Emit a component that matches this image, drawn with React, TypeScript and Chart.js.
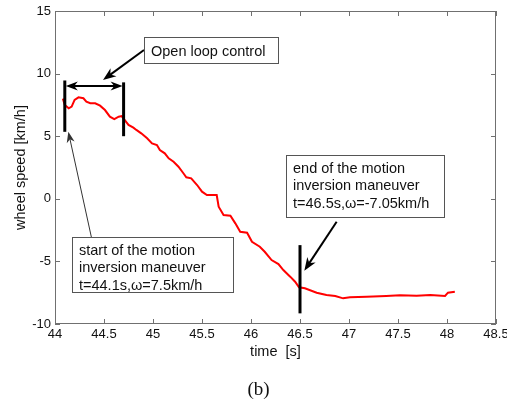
import React, { useEffect, useRef } from "react";
import { Chart, registerables } from "chart.js";
Chart.register(...registerables);

// time [s]
const T = [44.08, 44.10, 44.14, 44.17, 44.20, 44.24, 44.29, 44.32, 44.36, 44.41, 44.46, 44.51, 44.56, 44.605, 44.65, 44.68, 44.71, 44.75, 44.80, 44.83, 44.88, 44.94, 44.99, 45.04, 45.07, 45.12, 45.16, 45.21, 45.26, 45.31, 45.34, 45.39, 45.45, 45.50, 45.55, 45.65, 45.67, 45.72, 45.79, 45.84, 45.89, 45.96, 46.01, 46.09, 46.14, 46.21, 46.28, 46.33, 46.40, 46.45, 46.49, 46.55, 46.67, 46.77, 46.86, 46.94, 47.01, 47.18, 47.38, 47.52, 47.69, 47.83, 47.98, 48.01, 48.08];
// wheel speed [km/h]
const V = [8.0, 7.5, 7.23, 7.36, 7.9, 8.1, 8.03, 7.76, 7.63, 7.63, 7.44, 7.09, 6.56, 6.37, 6.56, 6.61, 6.3, 5.9, 5.68, 5.5, 5.23, 4.83, 4.43, 4.3, 3.9, 3.63, 3.23, 2.96, 2.56, 2.04, 1.72, 1.63, 1.1, 0.57, 0.3, 0.3, -0.63, -1.3, -1.35, -1.96, -2.63, -2.71, -3.43, -3.83, -4.23, -4.89, -5.21, -5.69, -6.22, -6.62, -7.07, -7.15, -7.5, -7.68, -7.76, -7.95, -7.87, -7.82, -7.76, -7.71, -7.74, -7.68, -7.76, -7.5, -7.42];

// marker lines: [t, vTop, vBottom]
const MARKERS = [[44.1, 9.45, 5.35], [44.7, 9.3, 5.0], [46.5, -3.7, -9.15]];
// open-loop span
const SPAN = [44.1, 44.7, 9.0];

// annotation boxes: [tLeft, vTop, tRight, vBottom]
const BOX_OPEN = [44.908, 12.92, 46.276, 10.85];
const BOX_START = [44.17, -3.08, 45.82, -7.42];
const BOX_END = [46.357, 3.5, 47.97, -1.48];
const TXT_OPEN = ["Open loop control"];
const TXT_START = ["start of the motion", "inversion maneuver", "t=44.1s,\u03c9=7.5km/h"];
const TXT_END = ["end of the motion", "inversion maneuver", "t=46.5s,\u03c9=-7.05km/h"];
// arrows [tFrom, vFrom, tTo, vTo]
const ARROW_OPEN = [44.908, 11.885, 44.49, 9.49];
const ARROW_START = [44.374, -3.16, 44.136, 5.36];
const ARROW_END = [46.874, -1.83, 46.544, -5.74];

const SANS = "'Liberation Sans', Arial, sans-serif";

function head(ctx: CanvasRenderingContext2D, x1: number, y1: number, x2: number, y2: number, len: number, hw: number, color: string) {
  const a = Math.atan2(y2 - y1, x2 - x1);
  const c = Math.cos(a), s = Math.sin(a);
  ctx.fillStyle = color;
  ctx.beginPath();
  ctx.moveTo(x2, y2);
  ctx.lineTo(x2 - len * c + hw * s, y2 - len * s - hw * c);
  ctx.lineTo(x2 - len * 0.7 * c, y2 - len * 0.7 * s);
  ctx.lineTo(x2 - len * c - hw * s, y2 - len * s + hw * c);
  ctx.closePath();
  ctx.fill();
}

const annot = {
  id: "annot",
  afterDatasetsDraw(chart: any) {
    const { ctx, chartArea: ca, scales } = chart;
    const xs = scales.x, ys = scales.y;
    const px = (t: number) => xs.getPixelForValue(t);
    const py = (v: number) => ys.getPixelForValue(v);
    ctx.save();
    // frame
    ctx.strokeStyle = "#707070";
    ctx.lineWidth = 1;
    ctx.strokeRect(Math.round(ca.left) + 0.5, Math.round(ca.top) + 0.5, Math.round(ca.right - ca.left) - 1, Math.round(ca.bottom - ca.top) - 1);
    // inward ticks
    ctx.beginPath();
    xs.ticks.forEach((tk: any) => {
      const X = Math.round(px(tk.value)) + 0.5;
      ctx.moveTo(X, ca.bottom); ctx.lineTo(X, ca.bottom - 5);
      ctx.moveTo(X, ca.top); ctx.lineTo(X, ca.top + 5);
    });
    ys.ticks.forEach((tk: any) => {
      const Y = Math.round(py(tk.value)) + 0.5;
      ctx.moveTo(ca.left, Y); ctx.lineTo(ca.left + 5, Y);
      ctx.moveTo(ca.right, Y); ctx.lineTo(ca.right - 5, Y);
    });
    ctx.stroke();

    // marker lines
    ctx.strokeStyle = "#000";
    ctx.lineWidth = 3;
    MARKERS.forEach(([t, a, b]) => {
      ctx.beginPath();
      ctx.moveTo(px(t), py(a));
      ctx.lineTo(px(t), py(b));
      ctx.stroke();
    });
    // double arrow
    const sx1 = px(SPAN[0]) + 1, sx2 = px(SPAN[1]) - 1, sy = py(SPAN[2]);
    ctx.lineWidth = 2;
    ctx.beginPath();
    ctx.moveTo(sx1 + 6, sy); ctx.lineTo(sx2 - 6, sy);
    ctx.stroke();
    head(ctx, sx2 - 10, sy, sx1, sy, 12, 4.5, "#000");
    head(ctx, sx1 + 10, sy, sx2, sy, 12, 4.5, "#000");

    // arrows
    const arrow = (a: number[], w: number, color: string, len: number, hw: number) => {
      const x1 = px(a[0]), y1 = py(a[1]), x2 = px(a[2]), y2 = py(a[3]);
      const ang = Math.atan2(y2 - y1, x2 - x1);
      ctx.strokeStyle = color;
      ctx.lineWidth = w;
      ctx.beginPath();
      ctx.moveTo(x1, y1);
      ctx.lineTo(x2 - Math.cos(ang) * len * 0.6, y2 - Math.sin(ang) * len * 0.6);
      ctx.stroke();
      head(ctx, x1, y1, x2, y2, len, hw, color);
    };
    arrow(ARROW_OPEN, 2, "#000", 13, 5);
    arrow(ARROW_START, 1, "#333", 11, 4);
    arrow(ARROW_END, 2, "#000", 13, 5);

    // boxes
    const box = (b: number[], lines: string[]) => {
      const l = Math.round(px(b[0])) + 0.5, t = Math.round(py(b[1])) + 0.5;
      const r = Math.round(px(b[2])) + 0.5, bt = Math.round(py(b[3])) + 0.5;
      ctx.fillStyle = "#fff";
      ctx.fillRect(l, t, r - l, bt - t);
      ctx.strokeStyle = "#555";
      ctx.lineWidth = 1;
      ctx.strokeRect(l, t, r - l, bt - t);
      ctx.fillStyle = "#111";
      ctx.font = `14.5px ${SANS}`;
      ctx.textAlign = "left";
      ctx.textBaseline = "middle";
      if (lines.length === 1) {
        ctx.fillText(lines[0], l + 6.5, (t + bt) / 2 + 1);
      } else {
        lines.forEach((s, i) => ctx.fillText(s, l + 6.5, t + 13 + i * 17.6));
      }
    };
    box(BOX_OPEN, TXT_OPEN);
    box(BOX_START, TXT_START);
    box(BOX_END, TXT_END);
    ctx.restore();
  },
  afterDraw(chart: any) {
    const { ctx } = chart;
    ctx.save();
    ctx.fillStyle = "#111";
    ctx.font = "19px 'Liberation Serif', 'Times New Roman', serif";
    ctx.textAlign = "center";
    ctx.textBaseline = "middle";
    ctx.fillText("(b)", chart.width / 2 + 5, 390);
    ctx.restore();
  },
};

const fmt = (v: any) => String(Math.round(Number(v) * 10) / 10);

export default function App() {
  const ref = useRef<HTMLCanvasElement>(null);
  useEffect(() => {
    document.body.style.margin = "0";
    const chart = new Chart(ref.current as HTMLCanvasElement, {
      type: "line",
      data: {
        datasets: [
          {
            data: T.map((t, i) => ({ x: t, y: V[i] })),
            borderColor: "#ff0000",
            borderWidth: 2,
            pointRadius: 0,
            tension: 0,
          },
        ],
      },
      options: {
        animation: false,
        responsive: false,
        layout: { padding: { top: 11, right: 11, left: 0, bottom: 0 } },
        plugins: { legend: { display: false }, tooltip: { enabled: false } },
        scales: {
          x: {
            type: "linear",
            min: 44,
            max: 48.5,
            grid: { display: false, drawTicks: false },
            border: { display: false },
            ticks: { stepSize: 0.5, font: { family: SANS, size: 13 }, color: "#111", padding: 3, maxRotation: 0, autoSkip: false, callback: fmt },
            title: { display: true, text: "time  [s]", font: { family: SANS, size: 14.5 }, color: "#111", padding: { top: 0, bottom: 40 } },
            afterFit: (s: any) => { s.height = 77; s.paddingLeft = 0; s.paddingRight = 0; },
          },
          y: {
            min: -10,
            max: 15,
            grid: { display: false, drawTicks: false },
            border: { display: false },
            ticks: { stepSize: 5, font: { family: SANS, size: 13 }, color: "#111", padding: 4, callback: fmt },
            title: { display: true, text: "wheel speed [km/h]", font: { family: SANS, size: 14.5 }, color: "#111", padding: { top: 12, bottom: 0 } },
            afterFit: (s: any) => { s.width = 55; s.paddingTop = 0; s.paddingBottom = 0; },
          },
        },
      },
      plugins: [annot],
    } as any);
    return () => chart.destroy();
  }, []);
  return (
    <div style={{ width: 507, height: 401 }}>
      <canvas ref={ref} width={507} height={401} style={{ display: "block" }} />
    </div>
  );
}
